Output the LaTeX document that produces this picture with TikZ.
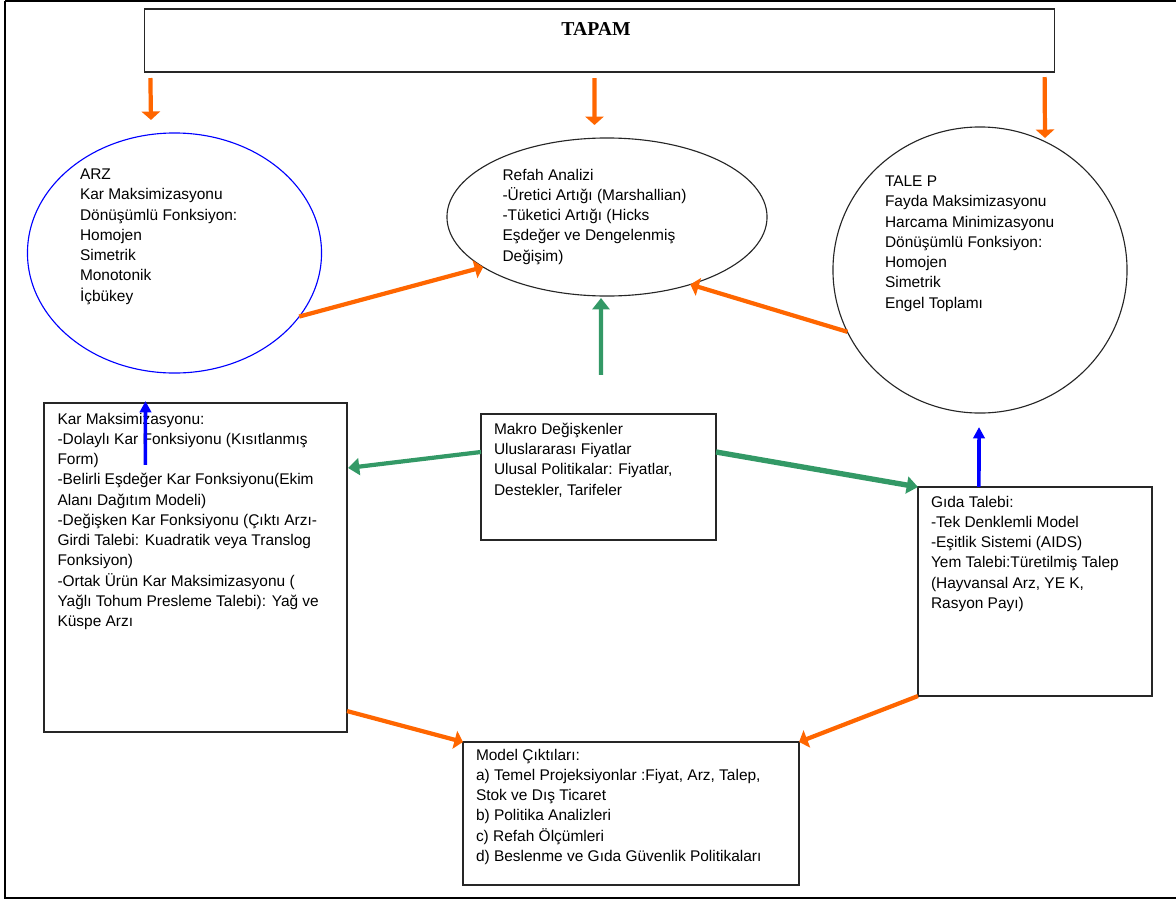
\documentclass[tikz,border=0pt]{standalone}
\usepackage{fontspec}
\setmainfont{Liberation Sans}
\newfontfamily\titlefont{Liberation Serif}
\usepackage{tikz}
\usetikzlibrary{arrows.meta,calc,positioning,shapes.geometric}
\definecolor{arrorange}{RGB}{255,102,0}
\definecolor{arrgreen}{RGB}{51,153,102}

\begin{document}
\begin{tikzpicture}[
    x=0.025cm, y=-0.025cm,
    every node/.style={
        inner sep=0pt,
        outer sep=0pt
    },
    box/.style={
        draw=black!85,
        line width=0.8pt,
        rectangle
    },
    oval/.style={
        draw=black!85,
        line width=0.8pt,
        ellipse
    },
    txt/.style={
        anchor=north west,
        align=left,
        font=\fontsize{11}{14.4}\selectfont,
        execute at begin node=\strut
    },
    orarrow/.style={
        draw=arrorange,
        line width=3pt,
        -{Triangle[width=13pt,length=6pt]}
    },
    grarrow/.style={
        draw=arrgreen,
        line width=3pt,
        -{Triangle[width=12pt,length=8pt]}
    },
    blarrow/.style={
        draw=blue,
        line width=2.5pt,
        -{Triangle[width=8pt,length=8pt]}
    }
]

\useasboundingbox (0,0) rectangle (1176,901);
\draw[line width=1.5pt] (1176,1) -- (5,1);
\draw[line width=2pt] (5,1) -- (5,898) -- (1176,898);

\node[box, minimum width=22.725cm, minimum height=1.575cm] (tapam) at (599.5,40.5) {};
\node[font=\titlefont\fontsize{14}{16}\selectfont\bfseries] (tapamtext) at (596,29.5) {TAPAM};

\node[oval, draw=blue, minimum width=7.35cm, minimum height=6cm] (arz) at (174.5,253) {};
\node[oval, minimum width=8cm, minimum height=3.95cm] (refah) at (607,217) {};
\node[oval, minimum width=7.35cm, minimum height=7.15cm] (talep) at (980,270) {};

\node[box, minimum width=7.575cm, minimum height=8.225cm] (kar) at (195.5,567.5) {};
\node[box, minimum width=5.875cm, minimum height=3.15cm] (makro) at (598.5,477) {};
\node[box, minimum width=5.85cm, minimum height=5.225cm] (gida) at (1035,591.5) {};
\node[box, minimum width=8.4cm, minimum height=3.575cm] (model) at (631,813.5) {};

\node[txt] (arztext) at (80,169) {ARZ\\Kar Maksimizasyonu\\Dönüşümlü Fonksiyon:\\Homojen\\Simetrik\\Monotonik\\İçbükey};
\node[txt] (refahtext) at (502.5,169) {Refah Analizi\\-Üretici Artığı (Marshallian)\\-Tüketici Artığı (Hicks\\Eşdeğer ve Dengelenmiş\\Değişim)};
\node[txt] (taleptext) at (885,176) {TALE P\\Fayda Maksimizasyonu\\Harcama Minimizasyonu\\Dönüşümlü Fonksiyon:\\Homojen\\Simetrik\\Engel Toplamı};
\node[txt] (kartext) at (57.5,413) {Kar Maksimizasyonu:\\-Dolaylı Kar Fonksiyonu (Kısıtlanmış\\Form)\\-Belirli Eşdeğer Kar Fonksiyonu(Ekim\\Alanı Dağıtım Modeli)\\-Değişken Kar Fonksiyonu (Çıktı Arzı-\\Girdi Talebi: Kuadratik veya Translog\\Fonksiyon)\\-Ortak Ürün Kar Maksimizasyonu (\\Yağlı Tohum Presleme Talebi): Yağ ve\\Küspe Arzı};
\node[txt] (makrotext) at (494,423) {Makro Değişkenler\\Uluslararası Fiyatlar\\Ulusal Politikalar: Fiyatlar,\\Destekler, Tarifeler};
\node[txt] (gidatext) at (931,496) {Gıda Talebi:\\-Tek Denklemli Model\\-Eşitlik Sistemi (AIDS)\\Yem Talebi:Türetilmiş Talep\\(Hayvansal Arz, YE K,\\Rasyon Payı)};
\node[txt] (modeltext) at (476,749) {Model Çıktıları:\\a) Temel Projeksiyonlar :Fiyat, Arz, Talep,\\Stok ve Dış Ticaret\\b) Politika Analizleri\\c) Refah Ölçümleri\\d) Beslenme ve Gıda Güvenlik Politikaları};

\draw[orarrow] ($(tapam.south west)+(5.5,6)$) -- ($(arz.north)+(-23.5,-13)$);
\draw[orarrow] ($(tapam.south)+(-5,6)$) -- ($(refah.north)+(-12.5,-13)$);
\draw[orarrow] ($(tapam.south east)+(-9.5,5)$) -- ($(talep.north)+(65,11)$);
\draw[orarrow] (arz.-27) -- (refah.202);
\draw[orarrow] (talep.205) -- (refah.-39);
\draw[orarrow] ($(kar.south east)+(0,-21)$) -- (model.north west);
\draw[orarrow] (gida.south west) -- (model.north east);

\draw[grarrow] ($(makro.north)+(2.5,-39)$) -- ($(refah.south)+(-6,2)$);
\draw[grarrow] ($(makro.north west)+(0,38)$) -- ($(kar.north east)+(1,65)$);
\draw[grarrow, line width=3.8pt] ($(makro.north east)+(0,38)$) -- (gida.north west);

\draw[blarrow] ($(kar.north west)+(101.5,62)$) -- ($(arz.south)+(-29,28)$);
\draw[blarrow] ($(gida.north west)+(61,0)$) -- ($(talep.south)+(-1,14)$);

\end{tikzpicture}
\end{document}
